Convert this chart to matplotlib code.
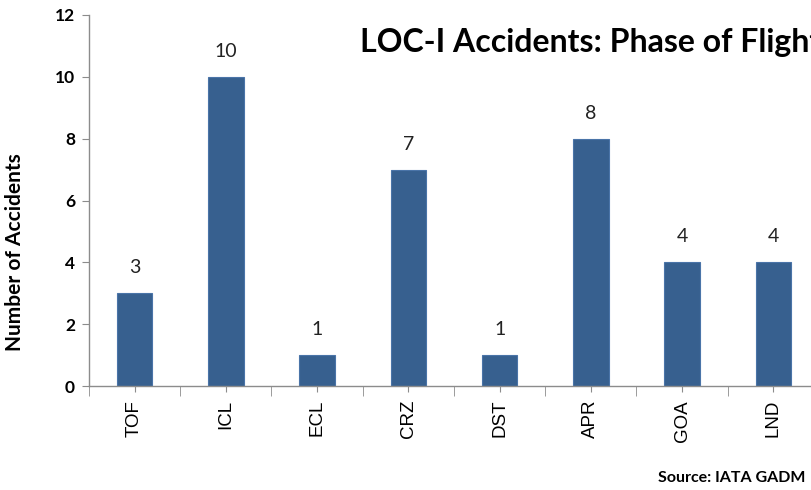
import numpy as np
import matplotlib.pyplot as plt
from matplotlib.ticker import FixedLocator

# LOC-I accidents by phase of flight
phases = ["TOF", "ICL", "ECL", "CRZ", "DST", "APR", "GOA", "LND"]
accidents = [3, 10, 1, 7, 1, 8, 4, 4]

bar_color = "#37608F"
axis_grey = "#8C8C8C"

fig = plt.figure(figsize=(8.12, 4.9), dpi=100)
# plot area runs a little past the right edge of the figure
ax = fig.add_axes([0.1096, 0.2122, 0.8990, 0.7572])

x = np.arange(len(phases))
ax.bar(x, accidents, width=0.39, color=bar_color, edgecolor="#4A74A8", linewidth=0.8)

for xi, v in zip(x, accidents):
    ax.text(xi, v + 0.55, str(v), ha="center", va="bottom",
            fontsize=14, family="Lato", color="#222222")

ax.set_xlim(-0.5, len(phases) - 0.5)
ax.set_ylim(0, 12)
ax.set_yticks(range(0, 13, 2))
ax.set_yticklabels([str(t) for t in range(0, 13, 2)], fontsize=12.5,
                   fontweight="bold", family="Lato")
ax.set_xticks(x)
ax.set_xticklabels(phases, rotation=90, fontsize=13.5, family="Liberation Sans")
ax.xaxis.set_minor_locator(FixedLocator(np.arange(-0.5, len(phases), 1)))

ax.tick_params(axis="x", which="major", length=4, color=axis_grey, pad=6)
ax.tick_params(axis="x", which="minor", length=7, color=axis_grey)
ax.tick_params(axis="y", length=5, color=axis_grey, pad=5)

for side in ("top", "right"):
    ax.spines[side].set_visible(False)
for side in ("left", "bottom"):
    ax.spines[side].set_color(axis_grey)
    ax.spines[side].set_linewidth(1.0)

ax.set_ylabel("Number of Accidents", fontsize=15, fontweight="bold",
              family="Lato")
ax.yaxis.set_label_coords(-0.088, 0.36)

fig.text(0.443, 0.913, "LOC-I Accidents: Phase of Flight", fontsize=23,
         fontweight="bold", family="Lato", ha="left", va="center")
fig.text(0.992, 0.024, "Source: IATA GADM", fontsize=11.5, fontweight="bold",
         family="Lato", ha="right", va="center")

fig.savefig("out.png", dpi=100)
